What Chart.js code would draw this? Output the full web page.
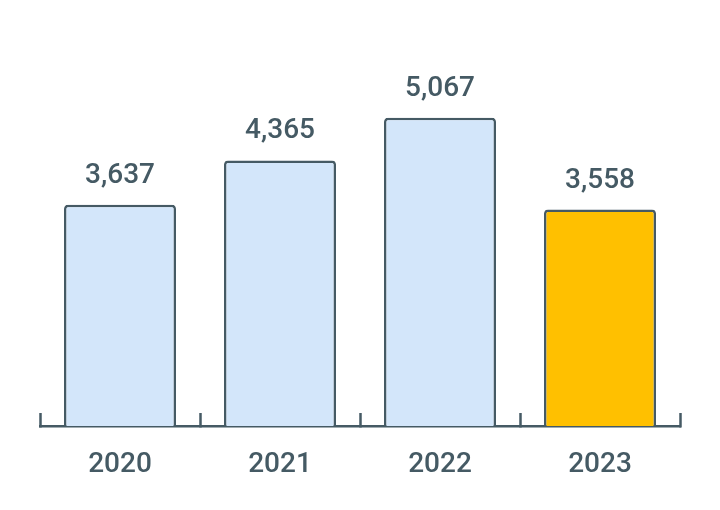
<!DOCTYPE html>
<html>
<head>
<meta charset="utf-8">
<style>
  html, body { margin: 0; padding: 0; background: #ffffff; }
  #wrap { width: 720px; height: 510px; }
</style>
<script src="https://cdn.jsdelivr.net/npm/chart.js@4"></script>
</head>
<body>
<div id="wrap"><canvas id="c" width="720" height="510"></canvas></div>
<script>
const categories = ['2020', '2021', '2022', '2023'];
const values = [3637, 4365, 5067, 3558];
const fillColors = ['#d3e6fa', '#d3e6fa', '#d3e6fa', '#ffc000'];
const ink = '#455a64';

const valueLabels = {
  id: 'valueLabels',
  afterDatasetsDraw(chart) {
    const ctx = chart.ctx;
    const meta = chart.getDatasetMeta(0);
    ctx.save();
    ctx.font = '500 28px Roboto';
    ctx.fillStyle = ink;
    ctx.textAlign = 'center';
    ctx.textBaseline = 'alphabetic';
    meta.data.forEach((bar, i) => {
      ctx.fillText(values[i].toLocaleString('en-US'), bar.x, bar.y - 22);
    });
    ctx.restore();
  }
};

new Chart(document.getElementById('c'), {
  type: 'bar',
  data: {
    labels: categories,
    datasets: [{
      data: values,
      backgroundColor: fillColors,
      borderColor: ink,
      borderWidth: 2.5,
      borderRadius: 4,
      borderSkipped: 'bottom',
      barPercentage: 0.7,
      categoryPercentage: 1.0
    }]
  },
  options: {
    responsive: false,
    animation: false,
    layout: { padding: { top: 61, left: 40, right: 40, bottom: 31 } },
    plugins: { legend: { display: false }, tooltip: { enabled: false } },
    scales: {
      x: {
        afterFit(scale) { scale.height = 53; },
        grid: {
          offset: true,
          drawOnChartArea: false,
          drawTicks: true,
          tickLength: -13,
          tickWidth: 2.5,
          tickColor: ink
        },
        border: { display: true, color: ink, width: 2.5 },
        ticks: {
          color: ink,
          font: { family: 'Roboto', size: 28, weight: '500' },
          padding: 35
        }
      },
      y: {
        display: false,
        min: 0,
        max: 6000
      }
    }
  },
  plugins: [valueLabels]
});
</script>
</body>
</html>
